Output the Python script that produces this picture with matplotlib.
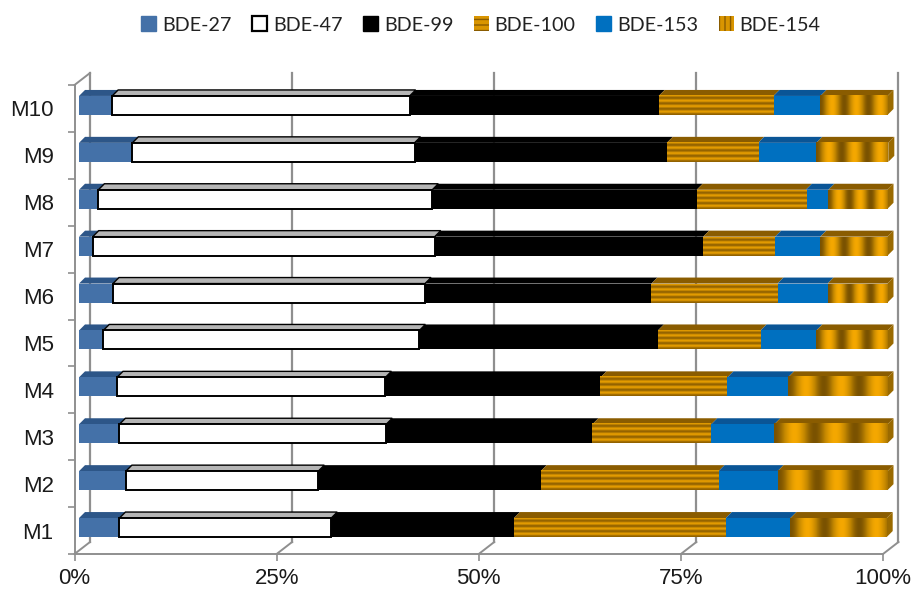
import numpy as np
import matplotlib
matplotlib.use("Agg")
import matplotlib.pyplot as plt
from matplotlib.patches import Patch, Polygon
from matplotlib.colors import LinearSegmentedColormap

samples = ["M1", "M2", "M3", "M4", "M5", "M6", "M7", "M8", "M9", "M10"]
series = ["BDE-27", "BDE-47", "BDE-99", "BDE-100", "BDE-153", "BDE-154"]
bde27 = [5.0, 5.8, 5.0, 4.7, 3.0, 4.2, 1.7, 2.4, 6.6, 4.1]
bde47 = [26.2, 23.8, 33.0, 33.2, 39.1, 38.6, 42.3, 41.3, 34.9, 36.8]
bde99 = [22.6, 27.5, 25.5, 26.6, 29.5, 28.0, 33.2, 32.7, 31.2, 30.8]
bde100 = [26.2, 22.0, 14.7, 15.7, 12.7, 15.6, 8.9, 13.5, 11.3, 14.2]
bde153 = [8.0, 7.3, 7.8, 7.5, 6.9, 6.2, 5.6, 2.8, 7.2, 5.8]
bde154 = [11.9, 13.6, 14.0, 12.3, 8.8, 7.4, 8.3, 7.3, 8.9, 8.3]
values = [bde27, bde47, bde99, bde100, bde153, bde154]

face = ["#4471a8", "#ffffff", "#000000", "#c98a05", "#0070c0", "#c98a05"]
top = ["#2d5688", "#b5b5b5", "#000000", "#8a5c00", "#0a5596", "#8a5c00"]
side = {5: "#9a6a00"}

W, H = 912, 590
plt.rcParams["hatch.linewidth"] = 1.0
fig = plt.figure(figsize=(W / 100, H / 100), dpi=100)
ax = fig.add_axes([74.5 / W, 1 - 554 / H, (883 - 74.5) / W, (554 - 85) / H])
ax.set_xlim(0, 100)
ax.set_ylim(0, 10)

px = 100 / (883 - 74.5)
py = 10 / (554 - 85)
back_dx, back_dy = 15.5 * px, 12 * py
bar_x0 = 4.5 * px
bar_h = 19 * py
bar_dx, bar_dy = 6 * px, 6 * py
grid_c = "#8f8f8f"

# back plane and floor
for t in [0, 25, 50, 75, 100]:
    ax.plot([t + back_dx] * 2, [back_dy, 10 + back_dy], color=grid_c, lw=1.6,
            clip_on=False, zorder=1)
    ax.plot([t, t + back_dx], [0, back_dy], color=grid_c, lw=1.4, clip_on=False, zorder=1)
ax.plot([0, back_dx], [10, 10 + back_dy], color=grid_c, lw=1.4, clip_on=False, zorder=1)

stripes = LinearSegmentedColormap.from_list("s", ["#8f6000", "#e89f00"])
glow = LinearSegmentedColormap.from_list("g", ["#7a5200", "#c08500", "#f5a800"])

y = np.arange(len(samples)) + 0.5 + 3 * py
left = np.full(len(samples), bar_x0)
for k, vals in enumerate(values):
    vals = np.array(vals)
    edge = "black" if k == 1 else "none"
    ax.barh(y, vals, left=left, height=bar_h, color=face[k], edgecolor=edge,
            linewidth=1.4 if k == 1 else 0, zorder=5 if k == 1 else 4, clip_on=False)
    for yi, l, v in zip(y, left, vals):
        yt = yi + bar_h / 2
        ax.add_patch(Polygon([(l, yt), (l + v, yt), (l + v + bar_dx, yt + bar_dy), (l + bar_dx, yt + bar_dy)],
                             closed=True, facecolor=top[k], edgecolor="black" if k == 1 else "none",
                             lw=1.0 if k == 1 else 0, zorder=3, clip_on=False))
        ext = (l, l + v, yi - bar_h / 2, yi + bar_h / 2)
        if k == 3:
            img = (np.cos(np.linspace(0, 2 * np.pi * 3.6, 80)) + 1)[:, None] / 2
            ax.imshow(img, extent=ext, aspect="auto", cmap=stripes, zorder=4.5,
                      interpolation="bilinear", clip_on=False)
        if k == 5:
            img = ((1 - np.cos(np.linspace(0, 2 * np.pi * 2.8, 200))) / 2)[None, :]
            ax.imshow(img, extent=ext, aspect="auto", cmap=glow, zorder=4.5,
                      interpolation="bilinear", clip_on=False)
            xr = l + v
            ax.add_patch(Polygon([(xr, yi - bar_h / 2), (xr + bar_dx, yi - bar_h / 2 + bar_dy),
                                  (xr + bar_dx, yt + bar_dy), (xr, yt)],
                                 closed=True, facecolor=side[5], edgecolor="none", zorder=3, clip_on=False))
    left = left + vals

ax.set_xlim(0, 100)
ax.set_ylim(0, 10)

for s in ["top", "right"]:
    ax.spines[s].set_visible(False)
for s in ["left", "bottom"]:
    ax.spines[s].set_color(grid_c)
    ax.spines[s].set_linewidth(1.4)

ax.set_xticks([0, 25, 50, 75, 100])
ax.set_xticklabels(["0%", "25%", "50%", "75%", "100%"])
ax.set_yticks(np.arange(len(samples)) + 0.5)
ax.set_yticklabels(samples)
ax.set_yticks(np.arange(len(samples) + 1), minor=True)
ax.tick_params(axis="y", which="major", length=0, pad=15, labelsize=16, labelcolor="#1a1a1a")
ax.tick_params(axis="y", which="minor", length=5, width=1.2, color=grid_c)
ax.tick_params(axis="x", which="major", length=5, width=1.2, color=grid_c, pad=5,
               labelsize=16, labelcolor="#1a1a1a")
for lab in ax.get_xticklabels() + ax.get_yticklabels():
    lab.set_family("Liberation Sans")

handles = [
    Patch(facecolor=face[0], edgecolor=face[0]),
    Patch(facecolor="white", edgecolor="black", linewidth=1.6),
    Patch(facecolor="black", edgecolor="black"),
    Patch(facecolor="#d99500", edgecolor="#8a5c00", hatch="---", linewidth=0),
    Patch(facecolor=face[4], edgecolor=face[4]),
    Patch(facecolor="#d99500", edgecolor="#8a5c00", hatch="|||", linewidth=0),
]
leg = fig.legend(handles, series, ncol=6, loc="center", bbox_to_anchor=(481 / W, 1 - 25 / H),
                 frameon=False, prop={"family": "Lato", "size": 14.2},
                 handlelength=0.75, handleheight=0.75, handletextpad=0.3, columnspacing=1.05)
for t in leg.get_texts():
    t.set_color("#222222")

fig.savefig("out.png", dpi=100)
